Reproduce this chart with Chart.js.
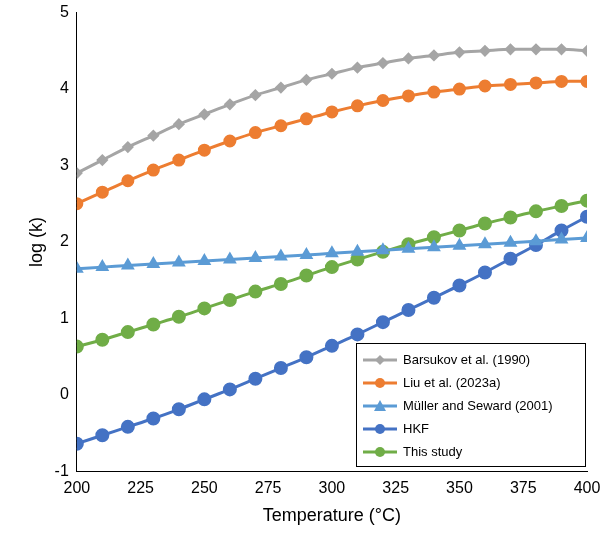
<!DOCTYPE html>
<html><head><meta charset="utf-8">
<script src="https://cdn.jsdelivr.net/npm/chart.js@4/dist/chart.umd.min.js"></script>
<style>
body{margin:0;background:#fff;font-family:"Liberation Sans",Arial,sans-serif}
#wrap{position:relative;width:605px;height:545px}
#leg{position:absolute;left:356px;top:343px;width:230px;height:124px;border:1px solid #000;background:#fff;box-sizing:border-box;padding:4px 6px;font-size:13px}
.it{display:flex;align-items:center;height:23px}
.it canvas{margin-right:6px}
</style></head><body>
<div id="wrap"><canvas id="c" width="605" height="545"></canvas><div id="leg"></div></div>
<script>
const temps=[200,210,220,230,240,250,260,270,280,290,300,310,320,330,340,350,360,370,380,390,400];
const barsukov=[2.9,3.07,3.24,3.39,3.54,3.67,3.8,3.92,4.02,4.12,4.2,4.28,4.34,4.4,4.44,4.48,4.5,4.52,4.52,4.52,4.5];
const liu=[2.5,2.65,2.8,2.94,3.07,3.2,3.32,3.43,3.52,3.61,3.7,3.78,3.85,3.91,3.96,4.0,4.04,4.06,4.08,4.1,4.1];
const muller=[1.65,1.67,1.69,1.71,1.73,1.75,1.77,1.79,1.81,1.83,1.85,1.87,1.89,1.91,1.93,1.95,1.97,1.99,2.01,2.03,2.05];
const hkf=[-0.64,-0.53,-0.42,-0.31,-0.19,-0.06,0.07,0.21,0.35,0.49,0.64,0.79,0.95,1.11,1.27,1.43,1.6,1.78,1.96,2.15,2.33];
const thisStudy=[0.63,0.72,0.82,0.92,1.02,1.13,1.24,1.35,1.45,1.56,1.67,1.77,1.87,1.97,2.06,2.15,2.24,2.32,2.4,2.47,2.54];
const series=[
 {label:"Barsukov et al. (1990)",data:barsukov,color:"#A5A5A5",style:"rectRot",r:4},
 {label:"Liu et al. (2023a)",data:liu,color:"#ED7D31",style:"circle",r:5},
 {label:"Müller and Seward (2001)",data:muller,color:"#5B9BD5",style:"triangle",r:5},
 {label:"HKF",data:hkf,color:"#4472C4",style:"circle",r:5.5},
 {label:"This study",data:thisStudy,color:"#70AD47",style:"circle",r:5.5}];
new Chart(document.getElementById('c'),{type:'line',
 data:{datasets:series.map(s=>({label:s.label,data:temps.map((t,i)=>({x:t,y:s.data[i]})),borderColor:s.color,backgroundColor:s.color,pointStyle:s.style,pointRadius:s.r,borderWidth:3,tension:0.3}))},
 options:{responsive:false,animation:false,layout:{padding:{top:7,right:18,left:22,bottom:14}},
  plugins:{legend:{display:false},tooltip:{enabled:false}},
  scales:{x:{type:'linear',min:200,max:400,grid:{display:false,tickLength:5},border:{color:'#000'},ticks:{stepSize:25,color:'#000',font:{size:16}},title:{display:true,text:'Temperature (°C)',color:'#000',font:{size:18}}},
   y:{min:-1,max:5,grid:{display:false,tickLength:5},border:{color:'#000'},ticks:{stepSize:1,color:'#000',font:{size:16}},title:{display:true,text:'log (k)',color:'#000',font:{size:18}}}}}});
const leg=document.getElementById('leg');
series.forEach(s=>{const d=document.createElement('div');d.className='it';const c=document.createElement('canvas');c.width=34;c.height=14;const g=c.getContext('2d');g.strokeStyle=s.color;g.fillStyle=s.color;g.lineWidth=3;g.beginPath();g.moveTo(0,7);g.lineTo(34,7);g.stroke();g.beginPath();
 if(s.style==='circle'){g.arc(17,7,5,0,7);}else if(s.style==='triangle'){g.moveTo(17,1);g.lineTo(23,12);g.lineTo(11,12);g.closePath();}else{g.moveTo(17,2);g.lineTo(22,7);g.lineTo(17,12);g.lineTo(12,7);g.closePath();}
 g.fill();d.appendChild(c);const sp=document.createElement('span');sp.textContent=s.label;d.appendChild(sp);leg.appendChild(d);});
</script></body></html>
